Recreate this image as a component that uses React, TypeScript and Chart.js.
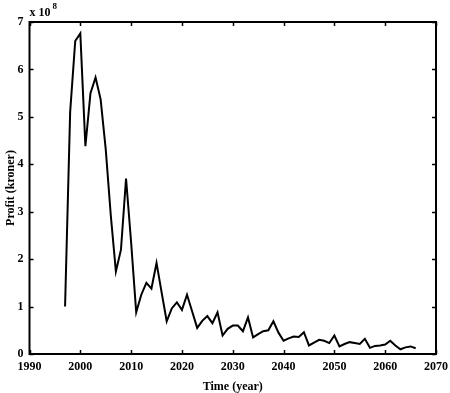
import { useEffect, useRef } from "react";
import { Chart, registerables } from "chart.js";

Chart.register(...registerables);

// Years 1997..2066
const years = [
  1997, 1998, 1999, 2000, 2001, 2002, 2003, 2004, 2005, 2006,
  2007, 2008, 2009, 2010, 2011, 2012, 2013, 2014, 2015, 2016,
  2017, 2018, 2019, 2020, 2021, 2022, 2023, 2024, 2025, 2026,
  2027, 2028, 2029, 2030, 2031, 2032, 2033, 2034, 2035, 2036,
  2037, 2038, 2039, 2040, 2041, 2042, 2043, 2044, 2045, 2046,
  2047, 2048, 2049, 2050, 2051, 2052, 2053, 2054, 2055, 2056,
  2057, 2058, 2059, 2060, 2061, 2062, 2063, 2064, 2065, 2066,
];

// Profit in units of 10^8 kroner
const profit = [
  1.0, 5.1, 6.6, 6.76, 4.38, 5.5, 5.83, 5.37, 4.32, 2.92,
  1.74, 2.2, 3.7, 2.35, 0.88, 1.25, 1.5, 1.38, 1.92, 1.3,
  0.69, 0.96, 1.09, 0.93, 1.25, 0.9, 0.55, 0.7, 0.8, 0.65,
  0.88, 0.39, 0.53, 0.6, 0.6, 0.48, 0.77, 0.35, 0.42, 0.48,
  0.5, 0.69, 0.45, 0.28, 0.33, 0.37, 0.36, 0.46, 0.18, 0.24,
  0.3, 0.28, 0.23, 0.39, 0.16, 0.21, 0.25, 0.23, 0.21, 0.32,
  0.13, 0.17, 0.18, 0.2, 0.28, 0.18, 0.1, 0.14, 0.16, 0.12,
];

const xTicks = [1990, 2000, 2010, 2020, 2030, 2040, 2050, 2060, 2070];
const yTicks = [0, 1, 2, 3, 4, 5, 6, 7];
const exponentBase = "x 10";
const exponentPower = "8";
const xTitle = "Time (year)";
const yTitle = "Profit (kroner)";

const FONT = "'Liberation Serif', 'Times New Roman', serif";

const framePlugin = {
  id: "frame",
  afterDraw(chart: any) {
    const { ctx, chartArea: a, scales } = chart;
    ctx.save();
    ctx.strokeStyle = "#000";
    ctx.lineWidth = 2;
    ctx.strokeRect(a.left, a.top, a.right - a.left, a.bottom - a.top);
    ctx.lineWidth = 1.5;
    const t = 4;
    ctx.beginPath();
    for (const v of xTicks) {
      const x = Math.round(scales.x.getPixelForValue(v)) + 0.5;
      ctx.moveTo(x, a.bottom);
      ctx.lineTo(x, a.bottom - t);
      ctx.moveTo(x, a.top);
      ctx.lineTo(x, a.top + t);
    }
    for (const v of yTicks) {
      const y = Math.round(scales.y.getPixelForValue(v)) + 0.5;
      ctx.moveTo(a.left, y);
      ctx.lineTo(a.left + t, y);
      ctx.moveTo(a.right, y);
      ctx.lineTo(a.right - t, y);
    }
    ctx.stroke();
    ctx.fillStyle = "#000";
    ctx.textBaseline = "alphabetic";
    ctx.textAlign = "left";
    ctx.font = `bold 12px ${FONT}`;
    ctx.fillText(exponentBase, a.left, a.top - 6);
    const w = ctx.measureText(exponentBase).width;
    ctx.font = `bold 9px ${FONT}`;
    ctx.fillText(exponentPower, a.left + w + 2, a.top - 13);
    ctx.restore();
  },
};

export default function App() {
  const ref = useRef<HTMLCanvasElement | null>(null);
  useEffect(() => {
    if (!ref.current) return;
    const tickFont = { family: FONT, size: 12, weight: "bold" as const };
    const chart = new Chart(ref.current, {
      type: "line",
      data: {
        datasets: [
          {
            data: years.map((y, i) => ({ x: y, y: profit[i] })),
            borderColor: "#000",
            borderWidth: 2,
            pointRadius: 0,
            tension: 0,
            fill: false,
          },
        ],
      },
      options: {
        responsive: false,
        animation: false,
        devicePixelRatio: 1,
        layout: { padding: { top: 22, right: 14, left: 0, bottom: 0 } },
        plugins: {
          legend: { display: false },
          tooltip: { enabled: false },
        },
        scales: {
          x: {
            type: "linear",
            min: 1990,
            max: 2070,
            afterBuildTicks: (s: any) => {
              s.ticks = xTicks.map((v) => ({ value: v }));
            },
            afterFit: (s: any) => {
              s.height = 39;
              s.paddingLeft = 0;
              s.paddingRight = 0;
            },
            grid: { display: false, drawTicks: false },
            border: { display: false },
            ticks: {
              color: "#000",
              font: tickFont,
              padding: 6,
              maxRotation: 0,
              autoSkip: false,
              callback: (v: any) => String(v),
            },
            title: {
              display: true,
              text: xTitle,
              color: "#000",
              font: { family: FONT, size: 12, weight: "bold", lineHeight: 1 },
              padding: { top: 0, bottom: 0 },
            },
          },
          y: {
            type: "linear",
            min: 0,
            max: 7,
            afterBuildTicks: (s: any) => {
              s.ticks = yTicks.map((v) => ({ value: v }));
            },
            afterFit: (s: any) => {
              s.width = 29.5;
              s.paddingTop = 0;
              s.paddingBottom = 0;
            },
            grid: { display: false, drawTicks: false },
            border: { display: false },
            ticks: { color: "#000", font: tickFont, padding: 6, autoSkip: false, callback: (v: any) => String(v) },
            title: {
              display: true,
              text: yTitle,
              color: "#000",
              font: { family: FONT, size: 12, weight: "bold", lineHeight: 1 },
              padding: { top: 5, bottom: 0 },
            },
          },
        },
      },
      plugins: [framePlugin],
    });
    return () => chart.destroy();
  }, []);
  return (
    <div style={{ position: "absolute", left: 0, top: 0, width: 450, height: 393, background: "#fff" }}>
      <canvas ref={ref} width={450} height={393} style={{ width: 450, height: 393, display: "block" }} />
    </div>
  );
}
